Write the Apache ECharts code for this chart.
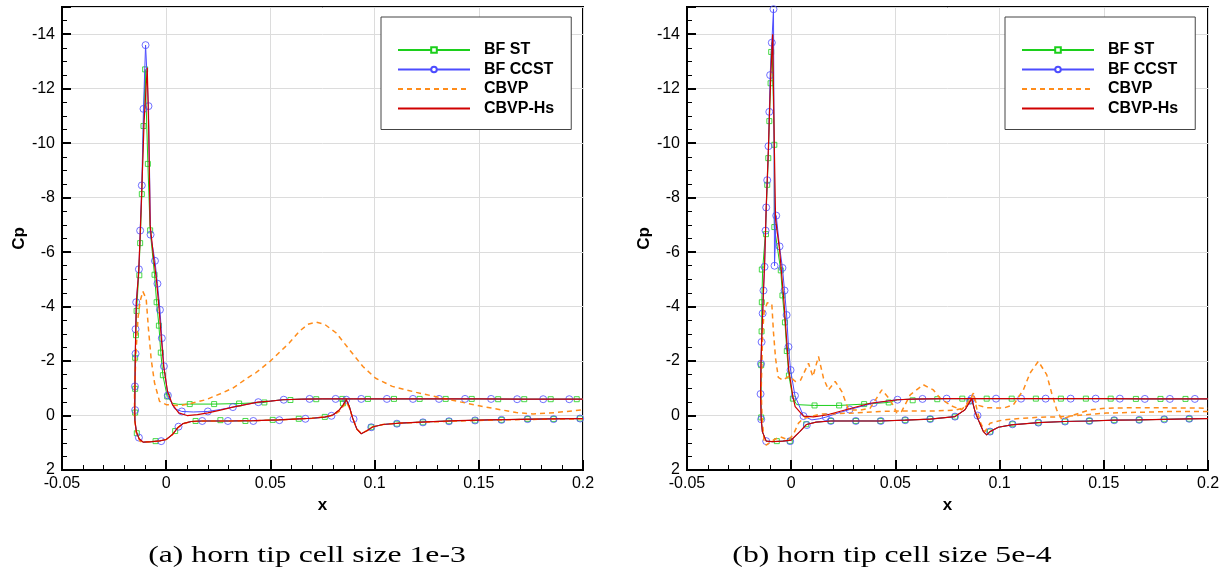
<!DOCTYPE html>
<html><head><meta charset="utf-8">
<script src="https://cdn.jsdelivr.net/npm/echarts@6/dist/echarts.min.js"></script>
<style>html,body{margin:0;padding:0;background:#fff}#c{width:1225px;height:575px}</style>
</head><body><div id="c"></div>
<script>
// ---------- Panel (a): horn tip cell size 1e-3 ----------
const A_lowerTail = [[0.2,0.11],[0.185,0.12],[0.17,0.14],[0.155,0.16],[0.14,0.19],[0.125,0.23],[0.112,0.28],[0.104,0.33],[0.099,0.42],[0.0965,0.55],[0.0936,0.67],[0.0915,0.5],[0.0895,0.1],[0.0878,-0.35],[0.0864,-0.58],[0.085,-0.4],[0.083,-0.2],[0.08,-0.02],[0.076,0.06],[0.07,0.1],[0.064,0.12],[0.054,0.16],[0.042,0.19],[0.03,0.2],[0.017,0.2],[0.012,0.22],[0.008,0.3],[0.0055,0.45],[0.003,0.7],[0.0,0.88],[-0.003,0.93],[-0.007,0.96],[-0.011,0.98],[-0.013,0.85],[-0.0143,0.6],[-0.015,0.2]];
const A_upperTail = [[0.05,-0.53],[0.056,-0.58],[0.065,-0.6],[0.075,-0.61],[0.09,-0.61],[0.11,-0.61],[0.13,-0.61],[0.15,-0.61],[0.17,-0.6],[0.2,-0.6]];
const A_stFront = [[-0.0151,-0.11],[-0.015,-0.98],[-0.0149,-2.12],[-0.0146,-2.95],[-0.0142,-3.84],[-0.0132,-5.15],[-0.0125,-6.33],[-0.0117,-8.13],[-0.0109,-10.63],[-0.0101,-12.71],[-0.0096,-12.7],[-0.0088,-9.24],[-0.0077,-6.8],[-0.0056,-5.17],[-0.0046,-4.16],[-0.0035,-3.3],[-0.0026,-2.31],[-0.0016,-1.48],[0.0005,-0.7],[0.003,-0.45],[0.006,-0.41],[0.0113,-0.42],[0.023,-0.42],[0.035,-0.44],[0.047,-0.48]];
const A_ccFront = [[-0.0151,-0.2],[-0.015,-1.07],[-0.0148,-2.27],[-0.0147,-3.17],[-0.0144,-4.16],[-0.0131,-5.37],[-0.0125,-6.79],[-0.0117,-8.45],[-0.0109,-11.26],[-0.0099,-13.6],[-0.0085,-11.36],[-0.0075,-6.64],[-0.0054,-5.68],[-0.0042,-4.84],[-0.003,-3.88],[-0.0021,-2.84],[-0.0011,-1.81],[0.0008,-0.74],[0.004,-0.25],[0.0075,-0.15],[0.013,-0.13],[0.02,-0.15],[0.026,-0.22],[0.032,-0.31],[0.044,-0.49]];
const A_hsFront = [[-0.0151,-0.2],[-0.015,-1.07],[-0.0148,-2.27],[-0.0146,-3.17],[-0.0143,-4.16],[-0.0132,-5.3],[-0.0125,-6.6],[-0.0117,-8.3],[-0.0106,-10.8],[-0.0091,-12.77],[-0.0084,-10.5],[-0.0077,-7.0],[-0.0062,-5.9],[-0.0047,-5.0],[-0.0035,-4.0],[-0.0024,-2.9],[-0.0012,-1.8],[0.0006,-0.9],[0.003,-0.4],[0.006,-0.1],[0.01,0.0],[0.015,-0.03],[0.02,-0.1],[0.026,-0.2],[0.032,-0.31],[0.044,-0.49]];
const A_cbvp = [[0.2,0.12],[0.185,0.13],[0.17,0.15],[0.155,0.17],[0.14,0.2],[0.125,0.24],[0.112,0.28],[0.104,0.33],[0.099,0.42],[0.0965,0.55],[0.0936,0.65],[0.0915,0.5],[0.0895,0.1],[0.0878,-0.3],[0.0864,-0.5],[0.085,-0.35],[0.083,-0.15],[0.08,0.0],[0.07,0.1],[0.054,0.16],[0.042,0.19],[0.03,0.2],[0.017,0.2],[0.012,0.22],[0.008,0.3],[0.0055,0.45],[0.003,0.7],[0.0,0.88],[-0.004,0.94],[-0.009,0.97],[-0.0125,0.95],[-0.0145,0.6],[-0.0152,0.0],[-0.0152,-0.95],[-0.0144,-2.43],[-0.0135,-3.6],[-0.0125,-4.2],[-0.0112,-4.56],[-0.0096,-4.28],[-0.0085,-3.17],[-0.0072,-2.06],[-0.0056,-1.2],[-0.0032,-0.52],[0.0,-0.4],[0.0064,-0.36],[0.011,-0.43],[0.019,-0.58],[0.026,-0.8],[0.032,-1.01],[0.04,-1.43],[0.043,-1.57],[0.05,-2.0],[0.059,-2.66],[0.064,-3.1],[0.068,-3.35],[0.072,-3.43],[0.076,-3.35],[0.0816,-3.03],[0.088,-2.41],[0.0944,-1.8],[0.1005,-1.37],[0.1085,-1.07],[0.12,-0.85],[0.136,-0.58],[0.152,-0.33],[0.168,-0.11],[0.176,-0.06],[0.184,-0.09],[0.192,-0.15],[0.2,-0.21]];
const A_stMarks = [[-0.0141,0.65],[-0.0149,-0.11],[-0.0149,-0.98],[-0.0149,-2.12],[-0.0145,-2.95],[-0.0142,-3.84],[-0.0129,-5.15],[-0.0125,-6.33],[-0.0117,-8.13],[-0.0109,-10.63],[-0.0101,-12.71],[-0.0088,-9.24],[-0.0077,-6.8],[-0.0056,-5.17],[-0.0046,-4.16],[-0.0035,-3.3],[-0.0026,-2.31],[-0.0016,-1.48],[0.0005,-0.7],[0.0113,-0.42],[0.023,-0.42],[0.035,-0.44],[0.0471,-0.48],[0.0596,-0.57],[0.072,-0.6],[0.0845,-0.61],[0.0968,-0.61],[0.1093,-0.61],[0.1216,-0.61],[0.1341,-0.61],[0.1466,-0.61],[0.1593,-0.6],[0.1718,-0.6],[0.1845,-0.6],[0.197,-0.6],[-0.0051,0.94],[0.0043,0.57],[0.0141,0.2],[0.026,0.17],[0.038,0.2],[0.0511,0.16],[0.0636,0.12],[0.0761,0.05],[0.0848,-0.45],[0.0984,0.43],[0.1107,0.3],[0.1232,0.25],[0.1357,0.21],[0.1482,0.18],[0.1609,0.16],[0.1734,0.13],[0.1859,0.13],[0.1986,0.11]];
const A_ccMarks = [[-0.0131,0.81],[-0.0149,-0.2],[-0.015,-1.07],[-0.0147,-2.27],[-0.0147,-3.17],[-0.0144,-4.16],[-0.0131,-5.37],[-0.0125,-6.79],[-0.0117,-8.45],[-0.0109,-11.26],[-0.0099,-13.6],[-0.0085,-11.36],[-0.0075,-6.64],[-0.0054,-5.68],[-0.0042,-4.84],[-0.003,-3.88],[-0.0021,-2.84],[-0.0011,-1.81],[0.0008,-0.74],[0.0075,-0.15],[0.02,-0.15],[0.032,-0.31],[0.0442,-0.49],[0.0564,-0.58],[0.0688,-0.61],[0.0813,-0.61],[0.0936,-0.61],[0.1059,-0.61],[0.1184,-0.61],[0.1309,-0.61],[0.1434,-0.61],[0.1559,-0.61],[0.1684,-0.6],[0.1809,-0.6],[0.1934,-0.6],[-0.0024,0.94],[0.0059,0.41],[0.0173,0.2],[0.0296,0.2],[0.0418,0.2],[0.0543,0.17],[0.0668,0.12],[0.0793,0.01],[0.0864,-0.58],[0.0899,0.13],[0.0984,0.43],[0.1107,0.3],[0.1232,0.25],[0.1357,0.21],[0.1482,0.18],[0.1609,0.16],[0.1734,0.13],[0.1859,0.13],[0.1986,0.11]];

// ---------- Panel (b): horn tip cell size 5e-4 ----------
const B_lowerTail = [[0.2,0.11],[0.191,0.12],[0.179,0.14],[0.167,0.16],[0.155,0.17],[0.143,0.2],[0.131,0.22],[0.1186,0.26],[0.1058,0.34],[0.0994,0.43],[0.0954,0.59],[0.0938,0.71],[0.0922,0.59],[0.0898,0.16],[0.0882,-0.15],[0.0866,-0.62],[0.0858,-0.55],[0.0834,-0.21],[0.0786,0.04],[0.0667,0.13],[0.0547,0.17],[0.0426,0.2],[0.0307,0.2],[0.019,0.2],[0.012,0.24],[0.0073,0.33],[0.004,0.6],[0.0,0.9],[-0.004,0.94],[-0.009,0.96],[-0.012,0.94],[-0.0138,0.6],[-0.0144,0.14]];
const B_upperTail = [[0.051,-0.58],[0.058,-0.6],[0.065,-0.61],[0.075,-0.62],[0.09,-0.62],[0.11,-0.62],[0.13,-0.62],[0.15,-0.62],[0.17,-0.61],[0.2,-0.61]];
const B_stFront = [[-0.0144,0.07],[-0.0144,-1.85],[-0.0142,-3.09],[-0.0141,-4.16],[-0.0137,-5.36],[-0.0124,-6.66],[-0.0115,-8.47],[-0.011,-9.45],[-0.0105,-10.81],[-0.0099,-12.2],[-0.0096,-13.35],[-0.0092,-13.7],[-0.0081,-9.94],[-0.0081,-6.92],[-0.005,-5.33],[-0.0042,-4.41],[-0.003,-3.42],[-0.0021,-2.37],[-0.0011,-1.47],[0.0008,-0.62],[0.0027,-0.4],[0.0112,-0.37],[0.023,-0.37],[0.035,-0.42],[0.0468,-0.48]];
const B_ccFront = [[-0.0144,0.14],[-0.0147,-0.79],[-0.0145,-1.9],[-0.0142,-2.7],[-0.0137,-3.75],[-0.0133,-4.59],[-0.0128,-5.46],[-0.0123,-6.79],[-0.012,-7.64],[-0.0115,-8.64],[-0.0109,-9.89],[-0.0105,-11.15],[-0.0101,-12.5],[-0.0093,-13.69],[-0.0085,-14.92],[-0.008,-5.5],[-0.0072,-7.34],[-0.0056,-6.21],[-0.0042,-5.42],[-0.0032,-4.59],[-0.0022,-3.69],[-0.0013,-2.52],[-0.0003,-1.67],[0.0018,-0.73],[0.0059,0.02],[0.0099,0.16],[0.0135,0.12],[0.0166,0.06],[0.022,-0.08],[0.028,-0.22],[0.0396,-0.46]];
const B_hsFront = [[-0.0144,0.14],[-0.0147,-0.79],[-0.0145,-1.9],[-0.0142,-2.7],[-0.0137,-3.75],[-0.0133,-4.59],[-0.0128,-5.46],[-0.0123,-6.79],[-0.012,-7.64],[-0.0115,-8.64],[-0.0109,-9.89],[-0.0104,-11.15],[-0.0098,-12.5],[-0.0089,-14.0],[-0.0081,-9.9],[-0.0075,-7.2],[-0.0056,-6.1],[-0.0047,-5.3],[-0.0035,-4.2],[-0.0024,-3.0],[-0.0012,-1.7],[0.0008,-0.7],[0.0019,-0.33],[0.0059,0.02],[0.0107,0.05],[0.017,-0.02],[0.028,-0.25],[0.0379,-0.45]];
const B_cbvp = [[0.2,-0.15],[0.1833,-0.15],[0.1673,-0.12],[0.1513,-0.09],[0.1354,0.01],[0.1274,0.05],[0.1194,0.06],[0.1114,0.1],[0.1018,0.16],[0.0954,0.28],[0.093,0.59],[0.091,0.3],[0.0895,-0.1],[0.0874,-0.8],[0.0858,-0.55],[0.0834,-0.3],[0.079,-0.2],[0.07,-0.17],[0.0539,-0.17],[0.0427,-0.15],[0.0299,-0.09],[0.0139,-0.05],[0.0059,0.1],[0.0035,0.28],[0.001,0.7],[-0.0013,0.9],[-0.0053,0.78],[-0.0085,0.9],[-0.012,1.09],[-0.013,0.96],[-0.014,0.04],[-0.0144,-0.95],[-0.014,-2.06],[-0.0137,-3.05],[-0.013,-3.8],[-0.0115,-4.14],[-0.0093,-4.1],[-0.0085,-3.05],[-0.0075,-2.1],[-0.0062,-1.4],[-0.004,-1.3],[-0.001,-1.45],[0.002,-1.25],[0.0045,-1.3],[0.0083,-1.92],[0.0104,-1.43],[0.0131,-2.17],[0.0155,-1.37],[0.0179,-0.94],[0.0211,-1.25],[0.0243,-0.88],[0.0275,-0.21],[0.033,-0.2],[0.0379,-0.27],[0.0435,-0.94],[0.0475,-0.58],[0.0507,-0.1],[0.053,-0.15],[0.0571,-0.76],[0.0634,-1.13],[0.0682,-0.94],[0.0714,-0.64],[0.077,-0.35],[0.0818,-0.21],[0.0858,-0.58],[0.0874,-0.82],[0.089,-0.39],[0.0938,-0.29],[0.1018,-0.27],[0.1066,-0.39],[0.1114,-0.94],[0.1146,-1.56],[0.1186,-1.99],[0.1226,-1.5],[0.125,-0.82],[0.1274,-0.21],[0.1298,0.14],[0.1354,-0.02],[0.1434,-0.21],[0.1513,-0.27],[0.1673,-0.29],[0.183,-0.28],[0.2,-0.27]];
const B_stMarks = [[-0.0144,0.07],[-0.0144,-1.85],[-0.0142,-3.09],[-0.0141,-4.16],[-0.0141,-5.36],[-0.0121,-6.66],[-0.0115,-8.47],[-0.011,-9.45],[-0.0105,-10.81],[-0.0099,-12.2],[-0.0096,-13.35],[-0.0081,-9.94],[-0.0081,-6.92],[-0.005,-5.33],[-0.0042,-4.41],[-0.003,-3.42],[-0.0021,-2.37],[-0.0011,-1.47],[0.0008,-0.62],[0.0112,-0.37],[0.023,-0.37],[0.035,-0.42],[0.0468,-0.48],[0.0583,-0.56],[0.0701,-0.6],[0.0821,-0.62],[0.0938,-0.62],[0.1058,-0.62],[0.1174,-0.62],[0.1294,-0.62],[0.1414,-0.62],[0.1533,-0.62],[0.1654,-0.61],[0.1772,-0.61],[0.1892,-0.61],[-0.0069,0.94],[-0.0005,0.94],[0.0072,0.32],[0.019,0.2],[0.031,0.2],[0.0428,0.2],[0.0547,0.17],[0.0667,0.13],[0.0786,0.04],[0.0858,-0.54],[0.0954,0.59],[0.1062,0.32],[0.1186,0.26],[0.1314,0.22],[0.1431,0.2],[0.155,0.17],[0.167,0.16],[0.179,0.14],[0.191,0.12]];
const B_ccMarks = [[-0.0144,0.14],[-0.0147,-0.79],[-0.0145,-1.9],[-0.0142,-2.7],[-0.0137,-3.75],[-0.0133,-4.59],[-0.0128,-5.46],[-0.0123,-6.79],[-0.012,-7.64],[-0.0115,-8.64],[-0.0109,-9.89],[-0.0105,-11.15],[-0.0101,-12.5],[-0.0093,-13.69],[-0.0085,-14.92],[-0.008,-5.5],[-0.0072,-7.34],[-0.0056,-6.21],[-0.0042,-5.42],[-0.0032,-4.59],[-0.0022,-3.69],[-0.0013,-2.52],[-0.0003,-1.67],[0.0018,-0.73],[0.0059,0.02],[0.0166,0.06],[0.028,-0.22],[0.0396,-0.46],[0.051,-0.58],[0.063,-0.61],[0.0746,-0.62],[0.0866,-0.62],[0.0983,-0.62],[0.1103,-0.62],[0.1221,-0.62],[0.1341,-0.62],[0.1461,-0.62],[0.1577,-0.62],[0.1697,-0.61],[0.1817,-0.61],[0.1937,-0.61],[-0.012,0.94],[-0.0005,0.94],[0.0075,0.35],[0.019,0.2],[0.031,0.2],[0.043,0.2],[0.0547,0.17],[0.0667,0.13],[0.0786,0.04],[0.0858,-0.54],[0.0894,0.0],[0.0954,0.59],[0.1062,0.32],[0.1186,0.26],[0.1314,0.22],[0.1431,0.2],[0.155,0.17],[0.167,0.16],[0.179,0.14],[0.191,0.12]];

const seriesNames = ['BF ST','BF CCST','CBVP','CBVP-Hs'];
const captions = ['(a) horn tip cell size 1e-3','(b) horn tip cell size 5e-4'];

// ---------- build ----------
const loop = (lower, front, upper) => lower.concat(front, upper);
const panels = [
  {st: loop(A_lowerTail, A_stFront, A_upperTail), cc: loop(A_lowerTail, A_ccFront, A_upperTail),
   hs: loop(A_lowerTail, A_hsFront, A_upperTail), cb: A_cbvp, stM: A_stMarks, ccM: A_ccMarks},
  {st: loop(B_lowerTail, B_stFront, B_upperTail), cc: loop(B_lowerTail, B_ccFront, B_upperTail),
   hs: loop(B_lowerTail, B_hsFront, B_upperTail), cb: B_cbvp, stM: B_stMarks, ccM: B_ccMarks}
];
const GREEN = '#1ccf1c', BLUE = '#4d4dff', ORANGE = '#ff8c1a', RED = '#d00000';
const grids = [
  {left: 62, top: 7, width: 521, height: 463},
  {left: 687, top: 7, width: 521, height: 463}
];
const xAxes = [], yAxes = [], series = [];
grids.forEach((g, i) => {
  g.show = true; g.borderColor = '#000'; g.borderWidth = 2; g.backgroundColor = '#fff';
  xAxes.push({type: 'value', gridIndex: i, min: -0.05, max: 0.2, interval: 0.05,
    name: 'x', nameLocation: 'middle', nameGap: 22,
    nameTextStyle: {fontFamily: 'Liberation Sans', fontWeight: 'bold', fontSize: 17, color: '#000'},
    axisLine: {show: true, onZero: false, lineStyle: {color: '#000', width: 2}},
    axisTick: {show: true, inside: true, length: 10, lineStyle: {color: '#000', width: 2}},
    minorTick: {show: true, splitNumber: 5, length: 5, lineStyle: {color: '#000', width: 1}},
    axisLabel: {fontFamily: 'Liberation Sans', fontSize: 16, color: '#000', margin: 6},
    splitLine: {show: true, lineStyle: {color: '#dcdcdc', width: 1}}});
  yAxes.push({type: 'value', gridIndex: i, min: -15, max: 2, splitNumber: 8, inverse: true,
    name: 'Cp', nameLocation: 'middle', nameGap: 31, nameRotate: 90,
    nameTextStyle: {fontFamily: 'Liberation Sans', fontWeight: 'bold', fontSize: 17, color: '#000'},
    axisLine: {show: true, onZero: false, lineStyle: {color: '#000', width: 2}},
    axisTick: {show: true, inside: true, length: 9, lineStyle: {color: '#000', width: 2}},
    minorTick: {show: true, splitNumber: 4, length: 5, lineStyle: {color: '#000', width: 1}},
    axisLabel: {fontFamily: 'Liberation Sans', fontSize: 16, color: '#000', margin: 7,
      formatter: v => (v === -15 ? '' : String(v))},
    splitLine: {show: true, lineStyle: {color: '#dcdcdc', width: 1}}});
  const p = panels[i];
  const base = {xAxisIndex: i, yAxisIndex: i, animation: false};
  series.push(Object.assign({type: 'line', name: 'BF ST', data: p.st, showSymbol: false, symbol: 'emptyRect', symbolSize: 5,
    color: GREEN, lineStyle: {color: GREEN, width: 1}, z: 2}, base));
  series.push(Object.assign({type: 'scatter', name: 'BF ST', data: p.stM, symbol: 'rect', symbolSize: 5,
    itemStyle: {color: 'rgba(255,255,255,0)', borderColor: GREEN, borderWidth: 1}, z: 3}, base));
  series.push(Object.assign({type: 'line', name: 'BF CCST', data: p.cc, showSymbol: false, symbol: 'emptyCircle', symbolSize: 6,
    color: BLUE, lineStyle: {color: BLUE, width: 1}, z: 4}, base));
  series.push(Object.assign({type: 'scatter', name: 'BF CCST', data: p.ccM, symbol: 'circle', symbolSize: 7,
    itemStyle: {color: 'rgba(255,255,255,0)', borderColor: BLUE, borderWidth: 1}, z: 5}, base));
  series.push(Object.assign({type: 'line', name: 'CBVP', data: p.cb, showSymbol: false, symbol: 'none',
    color: ORANGE, lineStyle: {color: ORANGE, width: 1.5, type: [5, 4]}, z: 6}, base));
  series.push(Object.assign({type: 'line', name: 'CBVP-Hs', data: p.hs, showSymbol: false, symbol: 'none',
    color: RED, lineStyle: {color: RED, width: 1.2}, z: 7}, base));
});
const legendData = [
  {name: 'BF ST'},
  {name: 'BF CCST'},
  {name: 'CBVP', itemStyle: {opacity: 0}},
  {name: 'CBVP-Hs', itemStyle: {opacity: 0}}
];
const legendBase = {orient: 'vertical', top: 17, itemWidth: 72, itemHeight: 7, itemGap: 3.5,
  padding: [25, 17, 13, 16], borderColor: '#444', borderWidth: 1, backgroundColor: '#fff',
  selectedMode: false, data: legendData,
  textStyle: {fontFamily: 'Liberation Sans', fontWeight: 'bold', fontSize: 16, color: '#000', padding: [0, 0, 0, 9]}};
const option = {
  animation: false,
  grid: grids,
  xAxis: xAxes,
  yAxis: yAxes,
  legend: [Object.assign({left: 381}, legendBase), Object.assign({left: 1005}, legendBase)],
  graphic: captions.map((t, i) => ({type: 'text', x: i === 0 ? 307 : 892, y: 556, scaleX: 1.32,
    style: {text: t, font: '24px "Liberation Serif"', fill: '#000', textAlign: 'center', textVerticalAlign: 'middle'}})),
  series: series
};
const chart = echarts.init(document.getElementById('c'), null, {renderer: 'canvas'});
chart.setOption(option);
</script></body></html>
